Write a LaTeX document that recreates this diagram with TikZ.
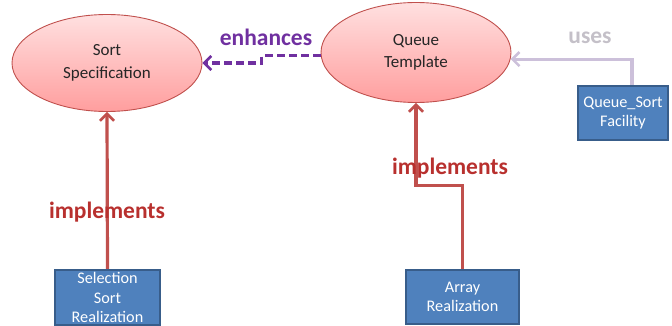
\documentclass[tikz,border=0pt]{standalone}
\usepackage{fontspec}
\setmainfont{Carlito}
\usetikzlibrary{shapes.geometric,arrows.meta,calc}
\definecolor{ellfillA}{HTML}{FFE0E0}
\definecolor{ellfillB}{HTML}{FF9E9E}
\definecolor{ellline}{HTML}{C0504D}
\definecolor{boxfill}{HTML}{4F81BD}
\definecolor{boxline}{HTML}{385D8A}
\definecolor{redarrow}{HTML}{C0504D}
\definecolor{implcol}{HTML}{B8302E}
\definecolor{enhcol}{HTML}{7030A0}
\definecolor{usescol}{HTML}{CCC0DA}
\definecolor{usestext}{HTML}{C4C0C8}
\begin{document}
\begin{tikzpicture}[x=1pt,y=-1pt,
  concept/.style={ellipse,draw=ellline,line width=0.9pt,top color=ellfillA,bottom color=ellfillB,
    minimum width=190pt,minimum height=100pt,inner sep=0pt,align=center,
    font=\fontsize{17}{22.5}\selectfont,text=black!85},
  realbox/.style={rectangle,draw=boxline,line width=2.4pt,fill=boxfill,align=center,inner sep=0pt,
    font=\fontsize{16.2}{19.5}\selectfont,text=white},
  tipA/.style={-{Straight Barb[length=7pt,width=14pt,line width=2.6pt]}},
  impl/.style={draw=redarrow,line width=3.2pt,tipA},
  enh/.style={draw=enhcol,line width=3.2pt,dash pattern=on 8pt off 4pt,tipA},
  usesarr/.style={draw=usescol,line width=3.2pt,tipA},
  lbl/.style={font=\bfseries\fontsize{23.5}{26}\selectfont,inner sep=0pt},
]
\useasboundingbox (0,0) rectangle (672,326);
% concepts
\node[concept,minimum height=97pt] (S) at (107,63) {Sort\\Specification};
\node[concept] (Q) at (416,52.5) {Queue\\Template};
% realizations
\node[realbox,minimum width=105pt,minimum height=55pt] (SS) at (107.5,297.5) {Selection\\Sort\\Realization};
\node[realbox,minimum width=113pt,minimum height=54pt] (AR) at (462.5,297) {Array\\Realization};
\node[realbox,minimum width=90pt,minimum height=54pt] (QS) at (623,113) {Queue\_Sort\\Facility};
% connectors
\coordinate (m) at ($(S.east)!0.5!(Q.west)$);
\draw[enh] (Q.182) -- (Q.182 -| m) |- (S.east);
\draw[usesarr] ([xshift=9pt]QS.north) |- (Q.-4);
\draw[impl] (SS.north) -- (S.south);
\coordinate (bend) at ($(AR.north)+(0,-83)$);
\draw[impl] (AR.north) -- (bend) -| (Q.south);
% labels
\node[lbl,text=enhcol] (le) at (266,37) {enhances};
\node[lbl,text=usestext] (lu) at (590,38) {uses};
\node[lbl,text=implcol] (li1) at (107,212) {implements};
\node[lbl,text=implcol] (li2) at (450,168) {implements};
\end{tikzpicture}
\end{document}
